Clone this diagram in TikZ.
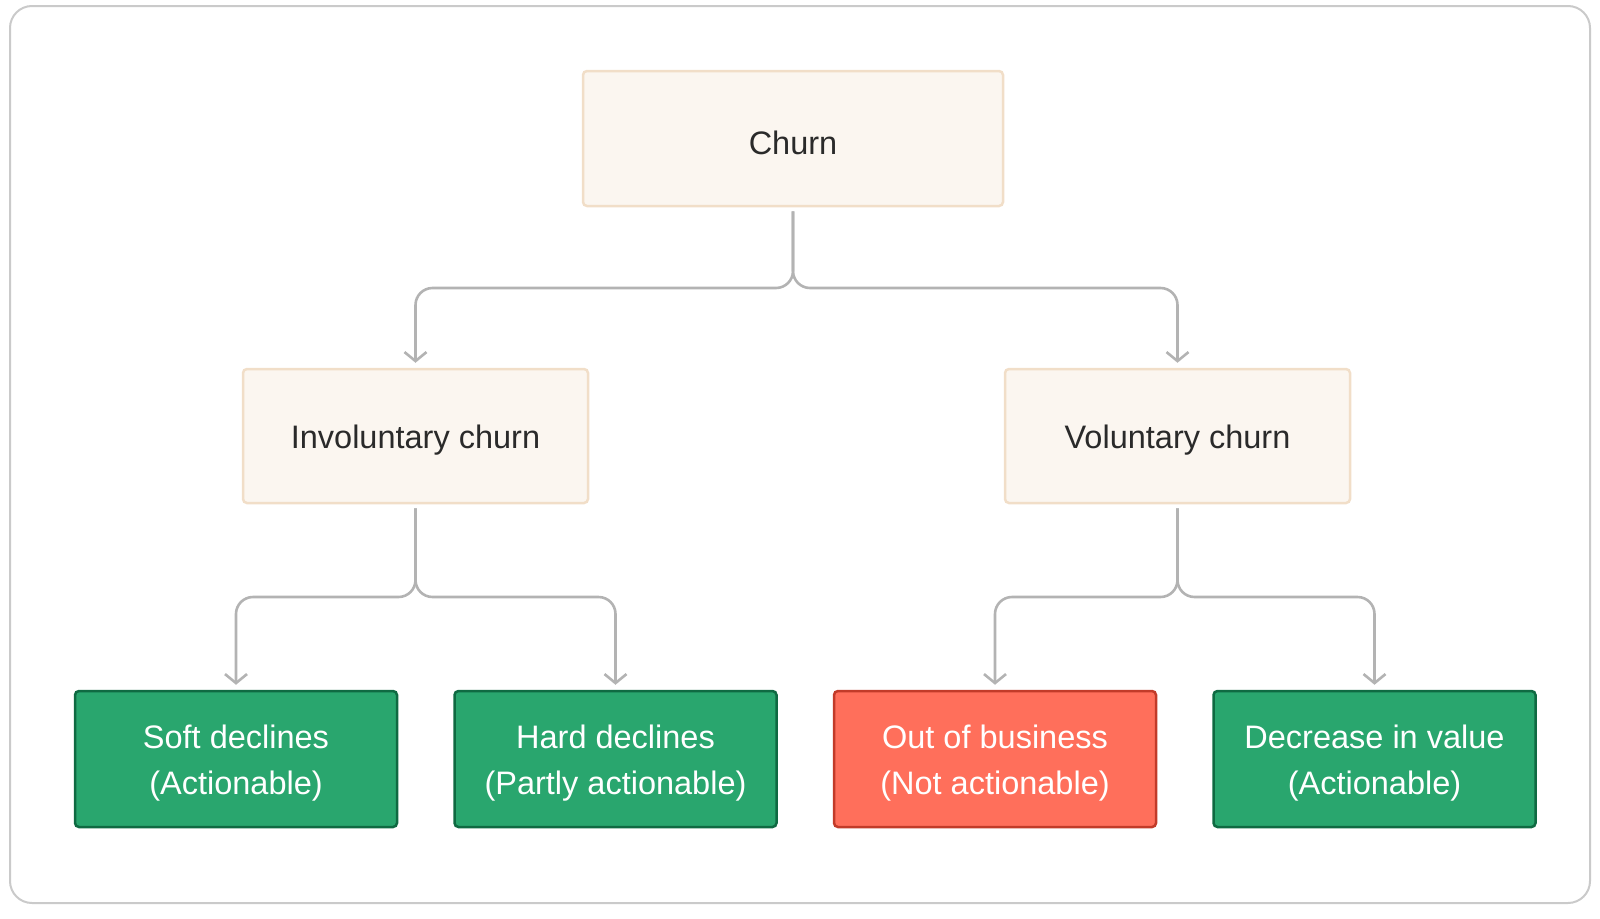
\documentclass[tikz,border=0pt]{standalone}
\usepackage{fontspec}
\setmainfont{Liberation Sans}
\usetikzlibrary{arrows.meta}
\definecolor{beigefill}{HTML}{FBF6F0}
\definecolor{beigeline}{HTML}{F1DEC8}
\definecolor{greenfill}{HTML}{29A66E}
\definecolor{greenline}{HTML}{0F6A42}
\definecolor{redfill}{HTML}{FF6F5B}
\definecolor{redline}{HTML}{C23B29}
\definecolor{conn}{HTML}{B3B3B3}
\definecolor{frame}{HTML}{CACACA}
\definecolor{txt}{HTML}{2A2A2A}
\newcommand{\dnline}[1]{\raisebox{-4pt}[\height][\depth]{#1}}
\tikzset{
  topbox/.style={draw=beigeline, fill=beigefill, line width=2.5pt, rounded corners=4pt,
    text=txt, font=\fontsize{32.5}{40}\selectfont, align=center, inner sep=0pt},
  leafbox/.style={line width=2.5pt, rounded corners=4pt, text=white,
    font=\fontsize{32.5}{46}\selectfont, align=center, inner sep=0pt,
    minimum width=322pt, minimum height=136pt},
  greenbox/.style={leafbox, draw=greenline, fill=greenfill},
  redbox/.style={leafbox, draw=redline, fill=redfill},
  link/.style={draw=conn, line width=2.6pt, rounded corners=17pt,
    -{Straight Barb[length=9pt,width=22pt,line width=2.6pt]},
    shorten <=4pt, shorten >=5pt}
}
\begin{document}
\begin{tikzpicture}[x=1pt,y=-1pt]
\useasboundingbox (0,0) rectangle (1600,918);
\draw[frame, line width=2pt, rounded corners=22pt] (10,6) rectangle (1590,903);

\node[topbox, minimum width=420pt, minimum height=135pt] (churn) at (793,138.5) {\dnline{Churn}};
\node[topbox, minimum width=345pt, minimum height=134pt] (inv) at (415.5,436) {\dnline{Involuntary churn}};
\node[topbox, minimum width=345pt, minimum height=134pt] (vol) at (1177.5,436) {\dnline{Voluntary churn}};

\node[greenbox] (soft) at (236,759) {\dnline{Soft declines}\\\dnline{(Actionable)}};
\node[greenbox] (hard) at (615.5,759) {\dnline{Hard declines}\\\dnline{(Partly actionable)}};
\node[redbox] (oob) at (995,759) {\dnline{Out of business}\\\dnline{(Not actionable)}};
\node[greenbox] (dec) at (1374.5,759) {\dnline{Decrease in value}\\\dnline{(Actionable)}};

\path[link] (churn.south) -- (793,288) -- (inv.north |- 0,288) -- (inv.north);
\path[link] (churn.south) -- (793,288) -- (vol.north |- 0,288) -- (vol.north);

\path[link] (inv.south) -- (415.5,597) -- (soft.north |- 0,597) -- (soft.north);
\path[link] (inv.south) -- (415.5,597) -- (hard.north |- 0,597) -- (hard.north);
\path[link] (vol.south) -- (1177.5,597) -- (oob.north |- 0,597) -- (oob.north);
\path[link] (vol.south) -- (1177.5,597) -- (dec.north |- 0,597) -- (dec.north);
\end{tikzpicture}
\end{document}
